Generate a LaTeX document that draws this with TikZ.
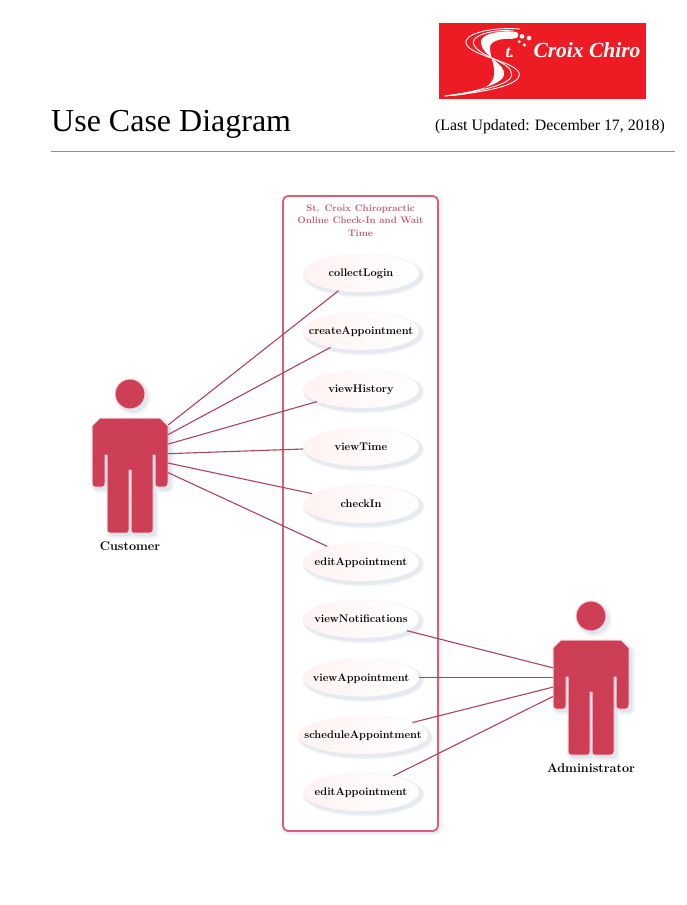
\documentclass[tikz,border=0pt]{standalone}
\usepackage{fontspec}
\newfontfamily\tnr{Liberation Serif}
\newcommand{\lab}{\rmfamily\bfseries}
\usetikzlibrary{shadings,shapes.geometric}
\definecolor{actred}{HTML}{CF4057}
\definecolor{actstripe}{HTML}{BD3A50}
\definecolor{actedge}{HTML}{F6D5DA}
\definecolor{linkc}{HTML}{A8445C}
\definecolor{boxc}{HTML}{DB5E72}
\definecolor{boxtitle}{HTML}{C65A70}
\definecolor{shadowc}{HTML}{C3D0E0}
\definecolor{logored}{HTML}{ED1C24}
\tikzset{
  x=1pt,y=-1pt,
  softshadow/.style={draw=shadowc,fill=shadowc,opacity=.10,line width=#1},
  uc/.style={ellipse,minimum height=38,minimum width=116,inner sep=0,font=\lab\fontsize{11}{13}\selectfont,text=black},
  ucbody/.style={left color=red!5,right color=white,shading angle=90},
  link/.style={draw=linkc,line width=1.1pt},
  anchorbox/.style={rectangle,minimum width=76,minimum height=110,inner sep=0},
  actlabel/.style={font=\lab\fontsize{12.6}{14}\selectfont,text=black},
  swoosh/.style={draw=white,line cap=round,fill=none,line width=.9pt},
  logotext/.style={text=white,font=\tnr\bfseries\itshape\fontsize{#1}{#1}\selectfont,inner sep=0}
}
\newcommand{\actorpath}{
  (-30,-37) -- (30,-37) -- (38,-29) -- (38,28) .. controls (38,31) and (37,32) .. (35,32)
  -- (28,32) .. controls (26,32) and (25,31) .. (25,29) -- (25,0) -- (23,0) -- (23,75) .. controls (23,77) and (22,78) .. (20,78)
  -- (3,78) .. controls (2,78) and (1,77) .. (1,75) -- (1,15) -- (-1,15) -- (-1,75) .. controls (-1,77) and (-2,78) .. (-3,78)
  -- (-20,78) .. controls (-22,78) and (-23,77) .. (-23,75) -- (-23,0) -- (-25,0) -- (-25,29) .. controls (-25,31) and (-26,32) .. (-28,32)
  -- (-35,32) .. controls (-37,32) and (-38,31) .. (-38,28) -- (-38,-29) -- cycle
}
\tikzset{
  actorfig/.pic={
    \foreach \w in {7,5,3,1.5}{
      \draw[softshadow=\w pt,xshift=3,yshift=-3] \actorpath;
      \draw[softshadow=\w pt,xshift=3,yshift=-3] (0,-61) circle[radius=15];
    }
    \fill[actred,line join=round] \actorpath;
    \fill[actred] (0,-61) circle[radius=15];
    \begin{scope}
      \clip \actorpath (0,-61) circle[radius=15];
      \foreach \k in {-260,-254,...,100}{
        \draw[actstripe,opacity=.25,line width=1.5pt] (\k,100) -- (\k+200,-100);
      }
    \end{scope}
    \draw[draw=actedge,line width=1pt,line join=round] \actorpath;
    \draw[draw=actedge,line width=1pt] (0,-61) circle[radius=15];
  }
}
\begin{document}
\begin{tikzpicture}
\useasboundingbox (0,0) rectangle (687,905);
% logo
\fill[logored] (439,23) rectangle (646,99);
\begin{scope}[shift={(430,15)},scale=1/3,line join=round]
\draw[swoosh] (270,42) .. controls (170,35) and (100,60) .. (108,85) .. controls (120,125) and (270,140) .. (268,180) .. controls (262,220) and (120,235) .. (45,243);
\draw[swoosh] (250,48) .. controls (190,42) and (125,60) .. (130,85) .. controls (140,125) and (250,140) .. (245,180) .. controls (240,215) and (120,232) .. (45,243);
\fill[white] (250,50) .. controls (195,46) and (148,60) .. (153,85) .. controls (158,125) and (228,145) .. (222,180) .. controls (214,215) and (100,235) .. (45,243) .. controls (120,242) and (186,225) .. (192,180) .. controls (196,150) and (178,120) .. (180,95) .. controls (182,78) and (215,68) .. (250,72) -- cycle;
\fill[white] (255,60) circle[radius=10] (276,64) circle[radius=7] (297,69) circle[radius=7] (283,90) circle[radius=5] (268,80) circle[radius=5];
\end{scope}
\node[logotext=17] (logot) at (510,53) {t.};
\node[logotext=21.5] (logoc) at (587,50) {Croix Chiro};
% title
\node[anchor=base west,inner sep=0,font=\tnr\fontsize{32}{32}\selectfont] (title) at (51,131) {Use Case Diagram};
\node[anchor=base east,inner sep=0,font=\tnr\fontsize{15.85}{16}\selectfont] (updated) at (665,130) {(Last Updated: December 17, 2018)};
\draw[draw=black!45,line width=.8pt] (51,151) -- (675,151);
% boundary
\foreach \w in {6,4,2.5}{
  \draw[softshadow=\w pt,rounded corners=5] (285,198) rectangle (440,833);
}
\draw[draw=boxc,line width=1.8pt,rounded corners=5,fill=white] (283,196) rectangle (438,831);
\node[align=center,inner sep=0,text=boxtitle,font=\lab\fontsize{9.5}{12.6}\selectfont] (boxlabel) at (360.5,220.5) {St. Croix Chiropractic\\Online Check-In and Wait\\Time};
% use cases
\foreach \n/\cx/\cy/\ew/\txt in {
  a/361/273/116/collectLogin,
  b/361/331/116/createAppointment,
  c/361/389/116/viewHistory,
  d/361/447/116/viewTime,
  e/361/504/116/checkIn,
  f/361/562/116/editAppointment,
  g/361/619/116/viewNotifications,
  h/361/677.5/116/viewAppointment,
  i/363/735/130/scheduleAppointment,
  j/361/792/116/editAppointment}{
  \foreach \w in {6,4,2}{
    \fill[shadowc,opacity=.16] (\cx+2.5,\cy+2.5) ellipse[x radius=\ew/2+\w/2,y radius=19+\w/2];
  }
  \node[uc,ucbody,minimum width=\ew] (\n) at (\cx,\cy) {\raisebox{-3.5pt}[0pt][0pt]{\makebox[0pt]{\txt}}};
}
% actors
\pic at (130,455) {actorfig};
\pic at (591,677) {actorfig};
\node[anchorbox] (cust) at (130,455) {};
\node[anchorbox] (adm) at (591,677.5) {};
\node[actlabel] (custl) at (130,546) {Customer};
\node[actlabel] (adml) at (591,768) {Administrator};
% connectors
\foreach \n in {a,b,c,d,e,f}{\draw[link] (cust) -- (\n);}
\foreach \n in {g,h,i,j}{\draw[link] (adm) -- (\n);}
\end{tikzpicture}
\end{document}
